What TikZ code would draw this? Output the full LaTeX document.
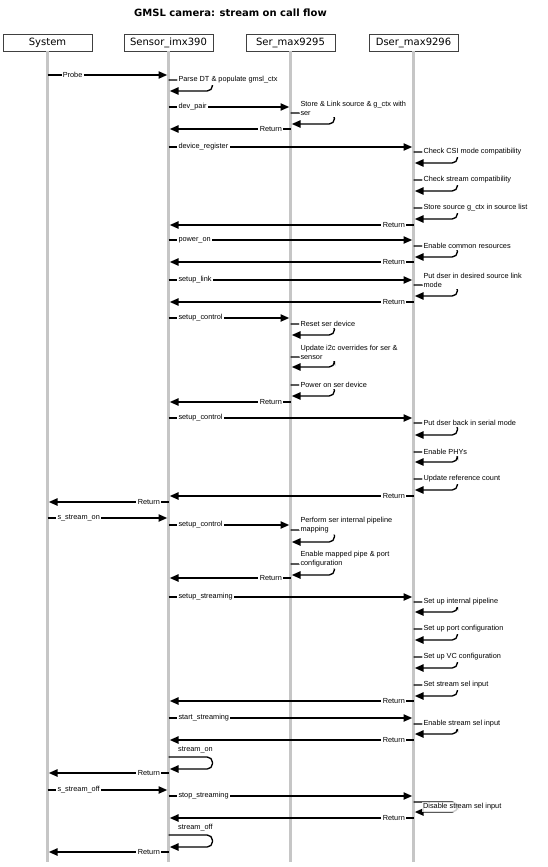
\documentclass[tikz,border=0pt]{standalone}
\usepackage{fontspec}
\setmainfont{DejaVu Sans}
\newfontfamily\msgfont{Liberation Sans}
\usetikzlibrary{arrows.meta}
\definecolor{lifegray}{RGB}{198,198,198}
\tikzset{
  box/.style={draw=black!75, line width=0.6pt, fill=white, minimum width=66.75pt, minimum height=12.75pt, inner sep=0pt, font=\fontsize{7.5}{9}\selectfont},
  life/.style={line width=2.3pt, lifegray},
  msg/.style={line width=1pt, -{Triangle[length=6.5pt,width=5.5pt]}, shorten >=1pt},
  selfmsg/.style={msg, rounded corners=4pt},
  lbl/.style={fill=white, inner sep=1pt, font=\msgfont\fontsize{5.5}{6.75}\selectfont, align=left},
}
\begin{document}
\begin{tikzpicture}[x=0.75pt,y=0.75pt,yscale=-1,xscale=1]
    \useasboundingbox (0,0) rectangle (547,867);

    % Title
    \node[font=\bfseries\fontsize{7.5}{9}\selectfont] (title) at (230.5,13) {GMSL camera: stream on call flow};

    % Participants
    \node[box] (sys) at (47.5,42.5) {System};
    \node[box] (sen) at (168.5,42.5) {Sensor\_imx390};
    \node[box] (ser) at (290.5,42.5) {Ser\_max9295};
    \node[box] (dse) at (413.5,42.5) {Dser\_max9296};

    % Lifelines
    \draw[life] (sys.south) -- (sys |- 0,862);
    \draw[life] (sen.south) -- (sen |- 0,862);
    \draw[life] (ser.south) -- (ser |- 0,862);
    \draw[life] (dse.south) -- (dse |- 0,862);

    % Probe
    \draw[msg] (sys |- 0,75) node[lbl,anchor=west,xshift=10pt] (probe) {Probe} -- (sen |- 0,75);
    \draw[selfmsg] (sen |- 0,80) node[lbl,anchor=west,xshift=6pt] (parse) {Parse DT \& populate gmsl\_ctx} -- ++(44,0) -- ++(0,11) -- (sen |- 0,91);
    \draw[msg] (sen |- 0,107) node[lbl,anchor=west,xshift=6pt] (devpair) {dev\_pair} -- (ser |- 0,107);
    \draw[selfmsg] (ser |- 0,113) node[lbl,anchor=west,xshift=6pt,yshift=3.4pt] (store) {Store \& Link source \& g\_ctx with\\ser} -- ++(44,0) -- ++(0,11) -- (ser |- 0,124);
    \draw[msg] (ser |- 0,129) node[lbl,anchor=east,xshift=-5pt] (ret1) {Return} -- (sen |- 0,129);

    % device_register
    \draw[msg] (sen |- 0,147) node[lbl,anchor=west,xshift=6pt] (devreg) {device\_register} -- (dse |- 0,147);
    \draw[selfmsg] (dse |- 0,152) node[lbl,anchor=west,xshift=6pt] (csi) {Check CSI mode compatibility} -- ++(44,0) -- ++(0,11) -- (dse |- 0,163);
    \draw[selfmsg] (dse |- 0,180) node[lbl,anchor=west,xshift=6pt] (strm) {Check stream compatibility} -- ++(44,0) -- ++(0,11) -- (dse |- 0,191);
    \draw[selfmsg] (dse |- 0,208) node[lbl,anchor=west,xshift=6pt] (srclist) {Store source g\_ctx in source list} -- ++(44,0) -- ++(0,11) -- (dse |- 0,219);
    \draw[msg] (dse |- 0,225) node[lbl,anchor=east,xshift=-5pt] (ret2) {Return} -- (sen |- 0,225);

    % power_on
    \draw[msg] (sen |- 0,240) node[lbl,anchor=west,xshift=6pt] (pwron) {power\_on} -- (dse |- 0,240);
    \draw[selfmsg] (dse |- 0,246) node[lbl,anchor=west,xshift=6pt] (common) {Enable common resources} -- ++(44,0) -- ++(0,11) -- (dse |- 0,257);
    \draw[msg] (dse |- 0,262) node[lbl,anchor=east,xshift=-5pt] (ret3) {Return} -- (sen |- 0,262);

    % setup_link
    \draw[msg] (sen |- 0,280) node[lbl,anchor=west,xshift=6pt] (link) {setup\_link} -- (dse |- 0,280);
    \draw[selfmsg] (dse |- 0,285) node[lbl,anchor=west,xshift=6pt,yshift=3.4pt] (desired) {Put dser in desired source link\\mode} -- ++(44,0) -- ++(0,11) -- (dse |- 0,296);
    \draw[msg] (dse |- 0,302) node[lbl,anchor=east,xshift=-5pt] (ret4) {Return} -- (sen |- 0,302);

    % setup_control (ser)
    \draw[msg] (sen |- 0,318) node[lbl,anchor=west,xshift=6pt] (ctl1) {setup\_control} -- (ser |- 0,318);
    \draw[selfmsg] (ser |- 0,324) node[lbl,anchor=west,xshift=6pt] (reset) {Reset ser device} -- ++(44,0) -- ++(0,11) -- (ser |- 0,335);
    \draw[selfmsg] (ser |- 0,357) node[lbl,anchor=west,xshift=6pt,yshift=3.4pt] (i2c) {Update i2c overrides for ser \&\\sensor} -- ++(44,0) -- ++(0,10) -- (ser |- 0,367);
    \draw[selfmsg] (ser |- 0,385) node[lbl,anchor=west,xshift=6pt] (serpwr) {Power on ser device} -- ++(44,0) -- ++(0,11) -- (ser |- 0,396);
    \draw[msg] (ser |- 0,402) node[lbl,anchor=east,xshift=-5pt] (ret5) {Return} -- (sen |- 0,402);

    % setup_control (dser)
    \draw[msg] (sen |- 0,418) node[lbl,anchor=west,xshift=6pt] (ctl2) {setup\_control} -- (dse |- 0,418);
    \draw[selfmsg] (dse |- 0,423) node[lbl,anchor=west,xshift=6pt] (serial) {Put dser back in serial mode} -- ++(44,0) -- ++(0,12) -- (dse |- 0,435);
    \draw[selfmsg] (dse |- 0,452) node[lbl,anchor=west,xshift=6pt] (phys) {Enable PHYs} -- ++(44,0) -- ++(0,10) -- (dse |- 0,462);
    \draw[selfmsg] (dse |- 0,479) node[lbl,anchor=west,xshift=6pt] (refcnt) {Update reference count} -- ++(44,0) -- ++(0,11) -- (dse |- 0,490);
    \draw[msg] (dse |- 0,496) node[lbl,anchor=east,xshift=-5pt] (ret6) {Return} -- (sen |- 0,496);
    \draw[msg] (sen |- 0,502) node[lbl,anchor=east,xshift=-5pt] (ret7) {Return} -- (sys |- 0,502);

    % s_stream_on
    \draw[msg] (sys |- 0,518) node[lbl,anchor=west,xshift=6pt] (son) {s\_stream\_on} -- (sen |- 0,518);
    \draw[msg] (sen |- 0,525) node[lbl,anchor=west,xshift=6pt] (ctl3) {setup\_control} -- (ser |- 0,525);
    \draw[selfmsg] (ser |- 0,530) node[lbl,anchor=west,xshift=6pt,yshift=3.4pt] (pipemap) {Perform ser internal pipeline\\mapping} -- ++(44,0) -- ++(0,12) -- (ser |- 0,542);
    \draw[selfmsg] (ser |- 0,564) node[lbl,anchor=west,xshift=6pt,yshift=3.4pt] (portcfg) {Enable mapped pipe \& port\\configuration} -- ++(44,0) -- ++(0,11) -- (ser |- 0,575);
    \draw[msg] (ser |- 0,578) node[lbl,anchor=east,xshift=-5pt] (ret8) {Return} -- (sen |- 0,578);

    % setup_streaming
    \draw[msg] (sen |- 0,597) node[lbl,anchor=west,xshift=6pt] (strsetup) {setup\_streaming} -- (dse |- 0,597);
    \draw[selfmsg] (dse |- 0,602) node[lbl,anchor=west,xshift=6pt] (intpipe) {Set up internal pipeline} -- ++(44,0) -- ++(0,10) -- (dse |- 0,612);
    \draw[selfmsg] (dse |- 0,629) node[lbl,anchor=west,xshift=6pt] (portsetup) {Set up port configuration} -- ++(44,0) -- ++(0,11) -- (dse |- 0,640);
    \draw[selfmsg] (dse |- 0,657) node[lbl,anchor=west,xshift=6pt] (vcsetup) {Set up VC configuration} -- ++(44,0) -- ++(0,11) -- (dse |- 0,668);
    \draw[selfmsg] (dse |- 0,685) node[lbl,anchor=west,xshift=6pt] (selset) {Set stream sel input} -- ++(44,0) -- ++(0,11) -- (dse |- 0,696);
    \draw[msg] (dse |- 0,701) node[lbl,anchor=east,xshift=-5pt] (ret9) {Return} -- (sen |- 0,701);

    % start_streaming
    \draw[msg] (sen |- 0,718) node[lbl,anchor=west,xshift=6pt] (start) {start\_streaming} -- (dse |- 0,718);
    \draw[selfmsg] (dse |- 0,724) node[lbl,anchor=west,xshift=6pt] (selon) {Enable stream sel input} -- ++(44,0) -- ++(0,10) -- (dse |- 0,734);
    \draw[msg] (dse |- 0,740) node[lbl,anchor=east,xshift=-5pt] (ret10) {Return} -- (sen |- 0,740);
    \draw[selfmsg] (sen |- 0,757) -- ++(44,0) -- ++(0,12) -- (sen |- 0,769);
    \node[lbl,anchor=west,fill=none] (streamon) at ([xshift=6pt]sen |- 0,750) {stream\_on};
    \draw[msg] (sen |- 0,773) node[lbl,anchor=east,xshift=-5pt] (ret11) {Return} -- (sys |- 0,773);

    % s_stream_off
    \draw[msg] (sys |- 0,790) node[lbl,anchor=west,xshift=6pt] (soff) {s\_stream\_off} -- (sen |- 0,790);
    \draw[msg] (sen |- 0,796) node[lbl,anchor=west,xshift=6pt] (stop) {stop\_streaming} -- (dse |- 0,796);
    \draw[selfmsg] (dse |- 0,802) -- ++(44,0) -- ++(0,10) -- (dse |- 0,812);
    \node[lbl,anchor=west,fill=white,fill opacity=0.8,text opacity=1] (seloff) at ([xshift=6pt]dse |- 0,807) {Disable stream sel input};
    \draw[msg] (dse |- 0,818) node[lbl,anchor=east,xshift=-5pt] (ret12) {Return} -- (sen |- 0,818);
    \draw[selfmsg] (sen |- 0,835) -- ++(44,0) -- ++(0,12) -- (sen |- 0,847);
    \node[lbl,anchor=west,fill=none] (streamoff) at ([xshift=6pt]sen |- 0,828) {stream\_off};
    \draw[msg] (sen |- 0,852) node[lbl,anchor=east,xshift=-5pt] (ret13) {Return} -- (sys |- 0,852);
\end{tikzpicture}
\end{document}
